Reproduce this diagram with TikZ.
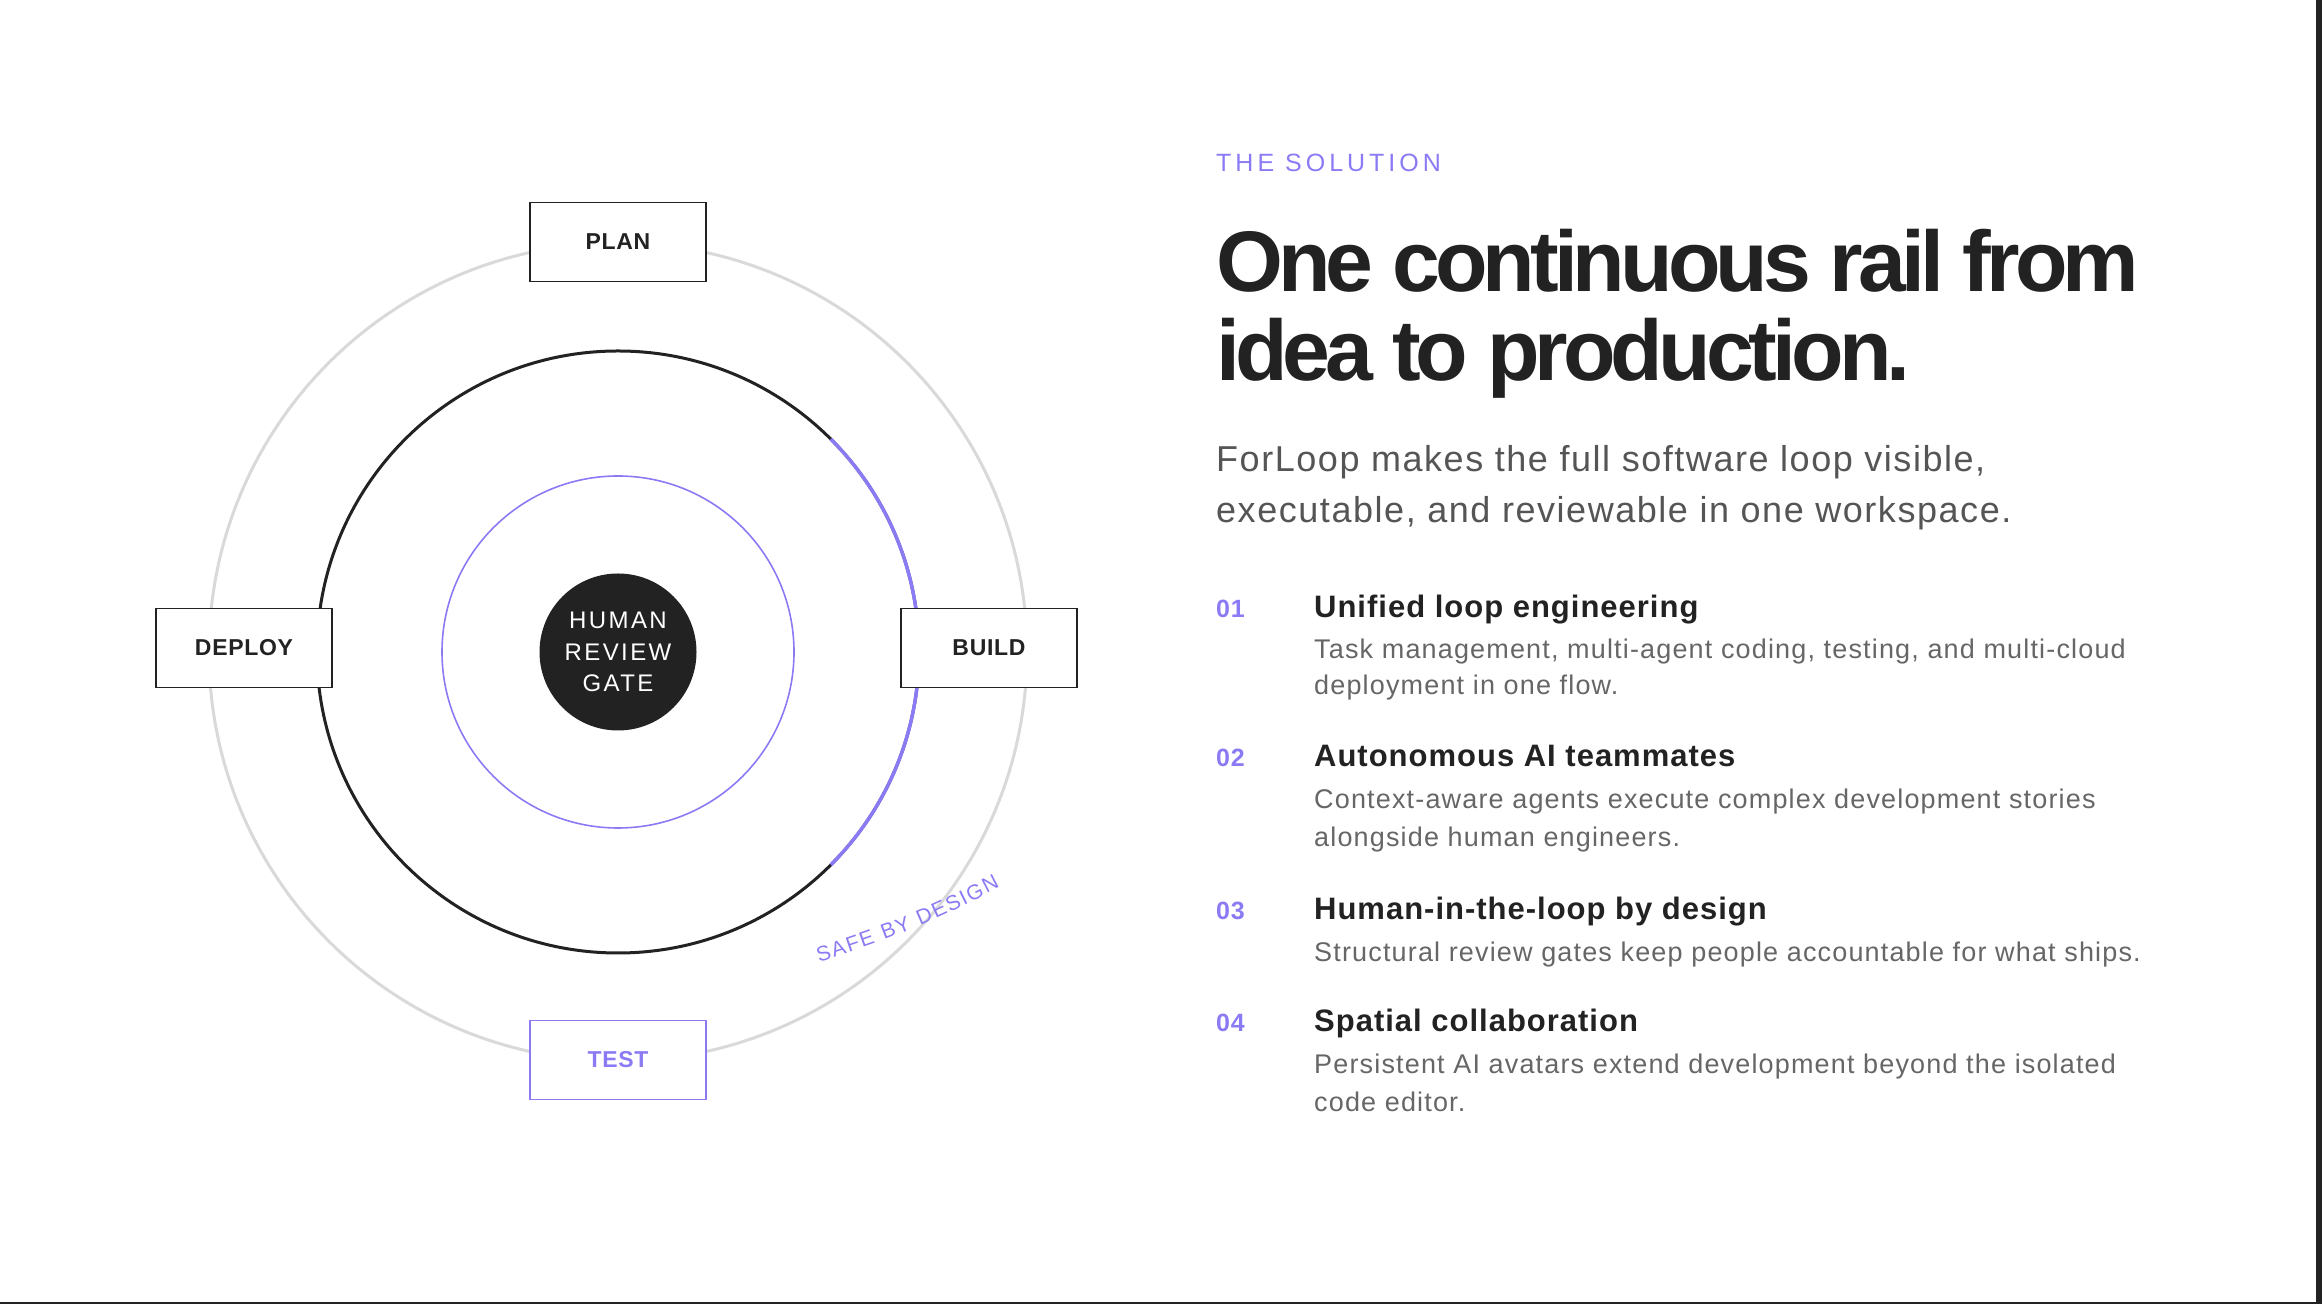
\documentclass[tikz,border=0pt]{standalone}
\usepackage{fontspec}
\setmainfont{Liberation Sans}
\newfontfamily\headfont[LetterSpace=-5.8]{Liberation Sans}
\newfontfamily\kickerfont[LetterSpace=16]{Liberation Sans}
\newfontfamily\leadfont[LetterSpace=4.3]{Liberation Sans}
\newfontfamily\titlefont[LetterSpace=3.2]{Liberation Sans}
\newfontfamily\descfont[LetterSpace=4.3]{Liberation Sans}
\newfontfamily\boxfont[LetterSpace=3]{Liberation Sans}
\newfontfamily\gatefont[LetterSpace=10]{Liberation Sans}
\newfontfamily\sbdfont{Liberation Sans}
\usetikzlibrary{decorations.text}
\definecolor{accent}{HTML}{8A7BF5}
\definecolor{ink}{HTML}{222222}
\definecolor{rail}{HTML}{D9D9D9}
\definecolor{lead}{HTML}{555555}
\definecolor{muted}{HTML}{666666}

\begin{document}
\begin{tikzpicture}[x=1pt, y=1pt,
    txt/.style = {inner sep=0pt, anchor=base west},
    stage/.style = {draw=ink, line width=1.5pt, fill=white, minimum width=176pt,
      minimum height=79pt, inner sep=0pt, text=ink,
      font=\boxfont\fontsize{23}{23}\selectfont\bfseries}
  ]
  \useasboundingbox (0,0) rectangle (2322,1304);
  % define points
  \path
    (618,652) coordinate(C)
    +(0,410) coordinate(P)
    +(371,4) coordinate(B)
    +(0,-408) coordinate(T)
    +(-374,4) coordinate(D)
    (819,342) coordinate(S1)
    (1000,417) coordinate(S2)
  ;
  % rings
  \draw[rail, line width=3pt] (C) circle[radius=409];
  \draw[ink, line width=3pt] (C) circle[radius=301];
  \draw[accent, line width=3.5pt]
    (C) ++(-45:301) arc[start angle=-45, end angle=45, radius=301];
  \draw[accent, line width=1.6pt] (C) circle[radius=176];
  % gate
  \node[circle, fill=ink, minimum size=157pt, inner sep=0pt, text=white, align=center,
    font=\gatefont\fontsize{24}{31.5}\selectfont] (G) at (C) {HUMAN\\REVIEW\\GATE};
  % stages
  \node[stage] (plan) at (P) {PLAN};
  \node[stage] (build) at (B) {BUILD};
  \node[stage] (deploy) at (D) {DEPLOY};
  \node[stage, draw=accent, text=accent] (test) at (T) {TEST};
  \path[decorate, decoration={text along path, text align=fit to path,
      text={|\sbdfont\fontsize{21}{21}\selectfont\color{accent}|SAFE BY DESIGN}}]
    (S1) to[bend right=5] (S2);
  % heading
  \node[txt, text=accent, font=\kickerfont\fontsize{25}{25}\selectfont]
    (kicker) at (1216,1132) {THE SOLUTION};
  \node[txt, text=ink, font=\headfont\fontsize{86}{86}\selectfont\bfseries]
    (head1) at (1216,1012) {One continuous rail from};
  \node[txt, text=ink, font=\headfont\fontsize{86}{86}\selectfont\bfseries]
    (head2) at (1216,923) {idea to production.};
  \node[txt, text=lead, font=\leadfont\fontsize{36}{36}\selectfont]
    (lead1) at (1216,832) {ForLoop makes the full software loop visible,};
  \node[txt, text=lead, font=\leadfont\fontsize{36}{36}\selectfont]
    (lead2) at (1216,781) {executable, and reviewable in one workspace.};
  % features
  \foreach \n/\y/\t in {01/686/Unified loop engineering, 02/537/Autonomous AI teammates,
      03/384/Human-in-the-loop by design, 04/272/Spatial collaboration}{
    \node[txt, text=accent, font=\titlefont\fontsize{25}{25}\selectfont\bfseries]
      (num\n) at (1216,\y) {\n};
    \node[txt, text=ink, font=\titlefont\fontsize{31}{31}\selectfont\bfseries]
      (title\n) at (1314,\y) {\t};
  }
  \foreach \i/\y/\t in {
      1a/645/{Task management, multi-agent coding, testing, and multi-cloud},
      1b/609/{deployment in one flow.},
      2a/495/{Context-aware agents execute complex development stories},
      2b/457/{alongside human engineers.},
      3a/342/{Structural review gates keep people accountable for what ships.},
      4a/230/{Persistent AI avatars extend development beyond the isolated},
      4b/192/{code editor.}}{
    \node[txt, text=muted, font=\descfont\fontsize{27}{27}\selectfont]
      (desc\i) at (1314,\y) {\t};
  }
  % frame edges
  \fill[ink] (2316,0) rectangle (2322,1304);
  \fill[ink] (0,0) rectangle (2316,2);
\end{tikzpicture}
\end{document}
